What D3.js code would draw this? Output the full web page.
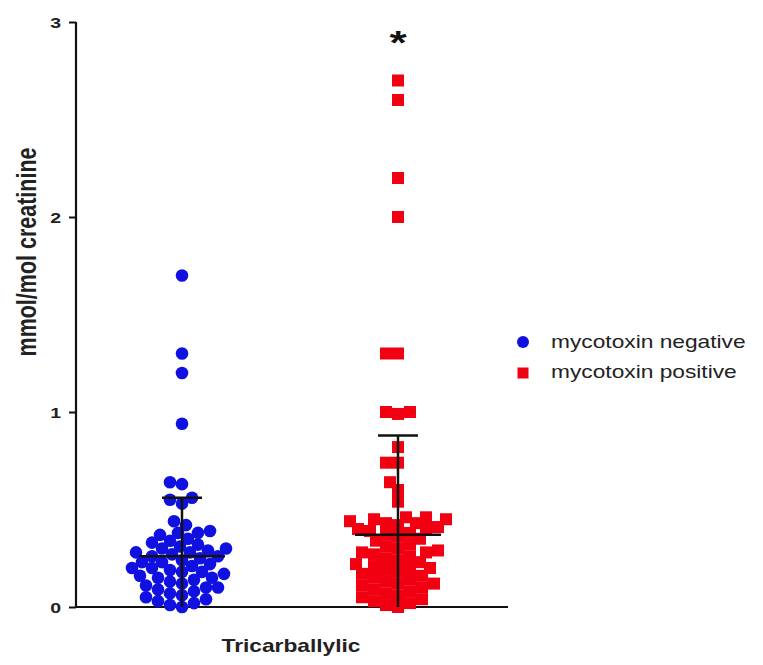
<html>
<style>
  body { margin: 0px; background: #fff; }
  text { font-family: "Liberation Sans", Arial, sans-serif; }
</style>
<body>
<svg id="chart"></svg>
</body>
<script src="https://cdnjs.cloudflare.com/ajax/libs/d3/7.8.5/d3.min.js"></script>
<script>
var width = 763, height = 665;

// groups and legend
var groups = ["mycotoxin negative", "mycotoxin positive"];
var groupColors = ["#1010e0", "#f00010"];
var category = "Tricarballylic";
var yTicks = [0, 1, 2, 3];

// (mmol/mol creatinine)
var negValues = [1.70, 1.30, 1.20, 0.94, 0.64, 0.63, 0.56, 0.55, 0.53,
  0.44, 0.42, 0.39, 0.38, 0.38, 0.37, 0.35, 0.34, 0.33, 0.32, 0.31, 0.30, 0.30,
  0.29, 0.28, 0.28, 0.27, 0.26, 0.26, 0.25, 0.24, 0.23, 0.23, 0.22, 0.21, 0.20, 0.20,
  0.19, 0.18, 0.18, 0.17, 0.16, 0.15, 0.15, 0.14, 0.13, 0.12, 0.11, 0.10, 0.10,
  0.09, 0.08, 0.07, 0.06, 0.05, 0.04, 0.03, 0.02, 0.01, 0.00];
var posValues = [2.70, 2.60, 2.20, 2.00, 1.30, 1.30, 1.00, 1.00, 0.99, 0.82, 0.74, 0.74, 0.64, 0.60, 0.54,
  0.46, 0.46, 0.45, 0.45, 0.44, 0.43, 0.43, 0.42, 0.41, 0.40, 0.40, 0.39, 0.38, 0.37, 0.36, 0.35,
  0.34, 0.32, 0.31, 0.30, 0.29, 0.28, 0.28, 0.27, 0.26, 0.25, 0.24, 0.23, 0.22, 0.21, 0.20, 0.20,
  0.19, 0.18, 0.17, 0.16, 0.15, 0.14, 0.13, 0.12, 0.12, 0.11, 0.10, 0.09, 0.08, 0.07, 0.06, 0.05,
  0.04, 0.03, 0.02, 0.01, 0.00];
var means = [0.26, 0.37];
var sds = [0.30, 0.51];

var svg = d3.select("#chart").attr("width", width).attr("height", height);

var y = d3.scaleLinear().domain([0, 3]).range([607, 22]);
var x = d3.scalePoint().domain(groups).range([182, 398]);
var stretch = 1.3; // picture is widened horizontally

// beeswarm offsets, simple sequential placement
function swarm(values, diam) {
  var placed = [];
  var sorted = values.slice().sort(function(a, b) { return a - b; });
  sorted.forEach(function(v, i) {
    var py = y(v);
    var best = 0;
    for (var k = 0; k < 200; k++) {
      var off = (k % 2 == 0 ? 1 : -1) * Math.ceil(k / 2) * 2;
      var ok = placed.every(function(p) {
        var dx = p.dx - off, dy = p.y - py;
        return dx * dx + dy * dy >= diam * diam;
      });
      if (ok) { best = off; break; }
    }
    placed.push({v: v, y: py, dx: best});
  });
  return placed;
}

var negPts = swarm(negValues, 11);
var posPts = swarm(posValues, 11);

// axes
var yAxis = d3.axisLeft(y).tickValues(yTicks).tickSize(7).tickFormat(d3.format("d"));
var gy = svg.append("g").attr("transform", "translate(76,0)").call(yAxis);
gy.select(".domain").attr("stroke", "#111").attr("stroke-width", 2.2).attr("d", "M0,607V22");
gy.selectAll(".tick line").attr("stroke", "#111").attr("stroke-width", 2);
gy.selectAll(".tick text")
  .attr("x", 0).attr("dy", "0.35em")
  .attr("transform", "translate(-15,0) scale(" + stretch + ",1)")
  .style("font-size", "15px").style("font-weight", "bold").attr("fill", "#222");

svg.append("line")
  .attr("x1", 75).attr("x2", 508).attr("y1", y(0)).attr("y2", y(0))
  .attr("stroke", "#111").attr("stroke-width", 2.2);

// points
svg.append("g").selectAll("circle").data(negPts).enter().append("circle")
  .attr("cx", function(d) { return x(groups[0]) + d.dx; })
  .attr("cy", function(d) { return d.y; })
  .attr("r", 6.3)
  .attr("fill", groupColors[0]);

svg.append("g").selectAll("rect").data(posPts).enter().append("rect")
  .attr("x", function(d) { return x(groups[1]) + d.dx - 6; })
  .attr("y", function(d) { return d.y - 6; })
  .attr("width", 12).attr("height", 12)
  .attr("fill", groupColors[1]);

// mean and SD bars
groups.forEach(function(g, i) {
  var cx = x(g);
  var top = y(means[i] + sds[i]);
  var bot = y(Math.max(0, means[i] - sds[i]));
  var bars = svg.append("g").attr("stroke", "#111").attr("stroke-width", 2.5);
  bars.append("line").attr("x1", cx).attr("x2", cx).attr("y1", top).attr("y2", bot);
  bars.append("line").attr("x1", cx - 20).attr("x2", cx + 20).attr("y1", top).attr("y2", top);
  bars.append("line").attr("x1", cx - 43).attr("x2", cx + 43).attr("y1", y(means[i])).attr("y2", y(means[i]));
});

// significance mark
svg.append("text")
  .attr("transform", "translate(" + x(groups[1]) + ",54) scale(" + stretch + ",1)")
  .attr("text-anchor", "middle")
  .style("font-size", "34px").style("font-weight", "bold").attr("fill", "#111")
  .text("*");

// axis titles
svg.append("text")
  .attr("transform", "translate(36,252) scale(" + stretch + ",1) rotate(-90)")
  .attr("text-anchor", "middle")
  .style("font-size", "21.5px").style("font-weight", "bold").attr("fill", "#222")
  .text("mmol/mol creatinine");

svg.append("text")
  .attr("transform", "translate(291,652) scale(" + stretch + ",1)")
  .attr("text-anchor", "middle")
  .style("font-size", "17.5px").style("font-weight", "bold").attr("fill", "#222")
  .text(category);

// legend
var legend = svg.append("g");
legend.append("circle").attr("cx", 523).attr("cy", 342).attr("r", 6).attr("fill", groupColors[0]);
legend.append("rect").attr("x", 517.5).attr("y", 367.5).attr("width", 11).attr("height", 11).attr("fill", groupColors[1]);
groups.forEach(function(g, i) {
  legend.append("text")
    .attr("transform", "translate(551," + (348 + i * 30) + ") scale(" + stretch + ",1)")
    .style("font-size", "17.5px").attr("fill", "#222")
    .text(g);
});
</script>
</html>
